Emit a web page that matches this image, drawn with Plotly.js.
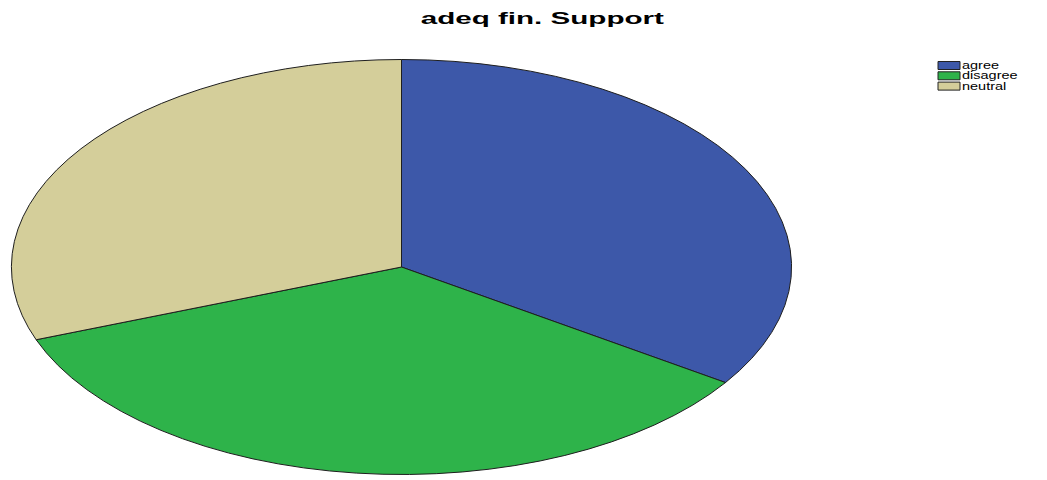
<!DOCTYPE html>
<html>
<head>
<meta charset="utf-8">
<script src="https://cdn.plot.ly/plotly-3.0.1.min.js"></script>
<style>
  html, body { margin: 0; padding: 0; background: #fff; }
  #chart { width: 1047px; height: 480px; }
  /* the reference pie is an ellipse: stretch the pie layer horizontally about its centre */
  #chart .pielayer {
    transform-box: view-box;
    transform-origin: 401.5px 267px;
    transform: scaleX(1.88);
  }
  #chart .pielayer path { vector-effect: non-scaling-stroke; }
  #chart text.gtitle {
    transform-box: fill-box;
    transform-origin: 50% 50%;
    transform: scaleX(1.85);
  }
  #chart text.annotation-text {
    transform-box: fill-box;
    transform-origin: 0% 50%;
    transform: scaleX(1.45);
  }
</style>
</head>
<body>
<div id="chart"></div>
<script>
// ---- data ----
const titleText = 'adeq fin. Support';
const labels = ['agree', 'disagree', 'neutral'];
const values = [34.4, 34.9, 30.7];
const colors = ['#3d58a9', '#2eb34a', '#d4ce9a'];

// ---- custom compact legend (SPSS style) ----
const W = 1047, H = 480;
const legX0 = 938, legX1 = 960, legTop = 65.5, legStep = 10.3, boxH = 8;
const shapes = [];
const annotations = [];
labels.forEach((lab, i) => {
  const cy = legTop + i * legStep;
  shapes.push({
    type: 'rect', xref: 'paper', yref: 'paper',
    x0: legX0 / W, x1: legX1 / W,
    y0: 1 - (cy + boxH / 2) / H, y1: 1 - (cy - boxH / 2) / H,
    fillcolor: colors[i], line: { color: '#222', width: 1 }
  });
  annotations.push({
    xref: 'paper', yref: 'paper', x: (legX1 + 0.5) / W, y: 1 - cy / H,
    xanchor: 'left', yanchor: 'middle', showarrow: false, text: lab,
    borderpad: 0,
    font: { family: 'Liberation Sans, Arial, sans-serif', size: 10, color: '#000' }
  });
});

const trace = {
  type: 'pie',
  labels: labels,
  values: values,
  sort: false,
  direction: 'clockwise',
  rotation: 0,
  textinfo: 'none',
  hoverinfo: 'label+percent',
  marker: { colors: colors, line: { color: '#1e1e1e', width: 1 } },
  domain: { x: [194 / W, 609 / W], y: [5.5 / H, 420.5 / H] },
  showlegend: false
};

const layout = {
  width: W, height: H,
  margin: { l: 0, r: 0, t: 0, b: 0 },
  paper_bgcolor: '#ffffff',
  plot_bgcolor: '#ffffff',
  showlegend: false,
  title: {
    text: titleText,
    font: { family: 'Liberation Sans, Arial, sans-serif', size: 16, color: '#000', weight: 'bold' },
    x: 0.518, xref: 'paper', xanchor: 'center',
    y: 1 - 18 / H, yref: 'container', yanchor: 'middle'
  },
  shapes: shapes,
  annotations: annotations
};

Plotly.newPlot('chart', [trace], layout, { displayModeBar: false, responsive: false, staticPlot: false });
</script>
</body>
</html>
